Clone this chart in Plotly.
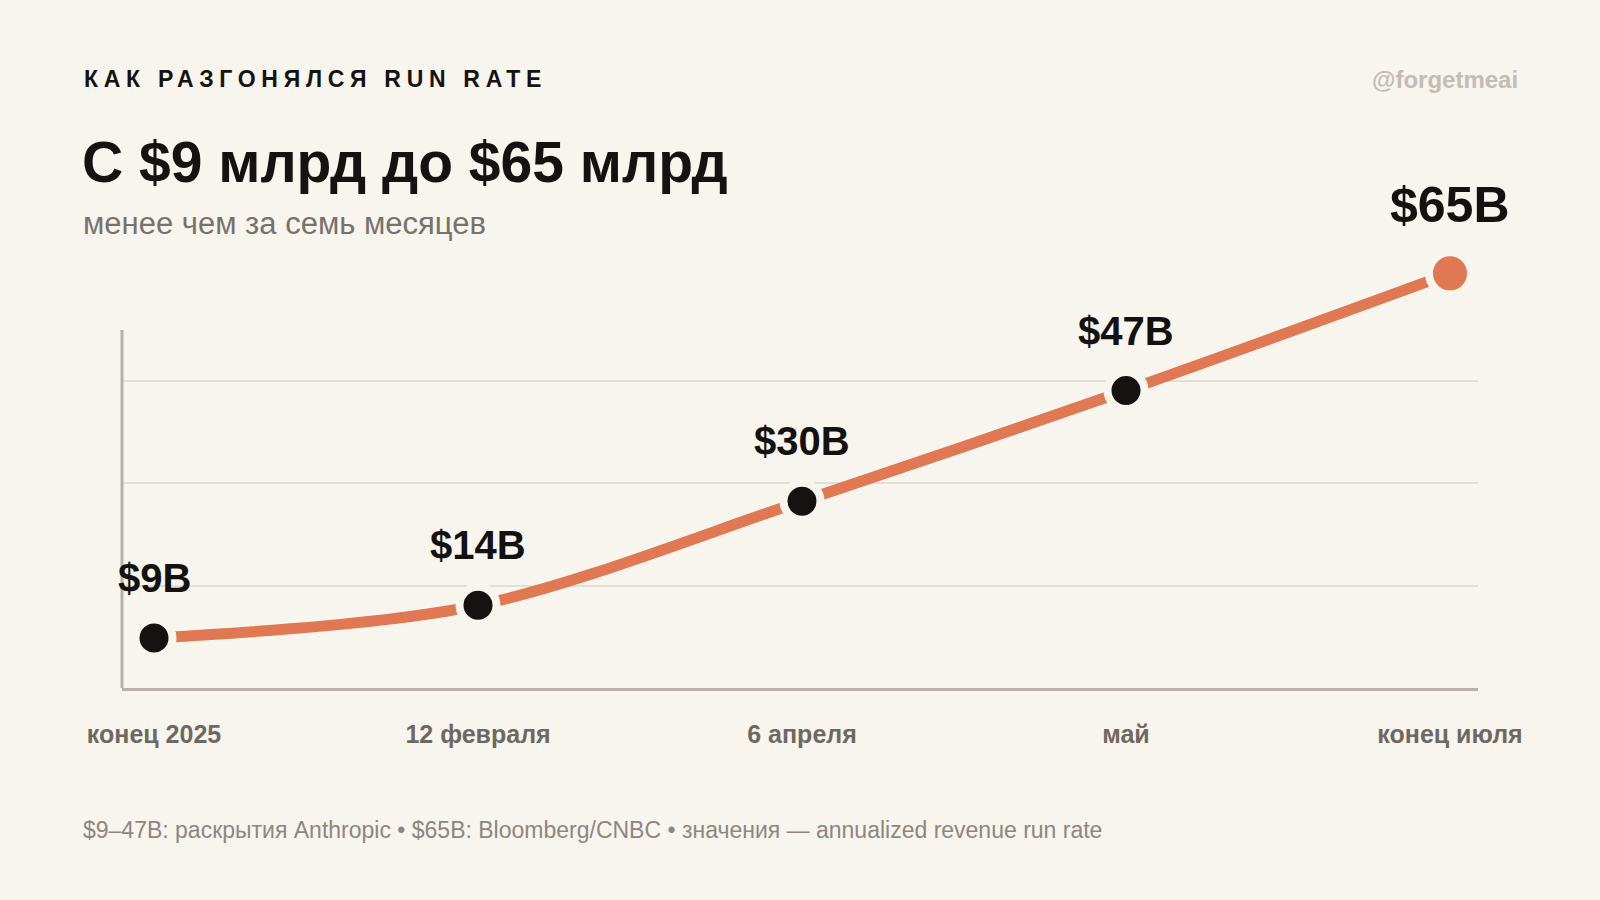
import plotly.graph_objects as go

# Данные: run rate Anthropic, млрд $
periods = ["конец 2025", "12 февраля", "6 апреля", "май", "конец июля"]
run_rate = [9, 14, 30, 47, 65]
value_labels = ["$9B", "$14B", "$30B", "$47B", "$65B"]

kicker = "КАК РАЗГОНЯЛСЯ RUN RATE"
title = "С $9 млрд до $65 млрд"
subtitle = "менее чем за семь месяцев"
handle = "@forgetmeai"
footnote = "$9–47B: раскрытия Anthropic • $65B: Bloomberg/CNBC • значения — annualized revenue run rate"

BG = "#F8F4EE"
ORANGE = "#E07853"
DARK = "#151311"
AXIS = "#B7B1AA"
FONT = "Liberation Sans, Arial, sans-serif"

W, H = 1600, 900
# область графика выше видимой оси Y, чтобы точка $65B не обрезалась
ML, MR, MT, MB = 122, 122, 240, 212
AXIS_TOP_PX = 330


# пиксели -> координаты paper (для текстов вне графика)
def px(x):
    return (x - ML) / (W - ML - MR)


def py(y):
    return (H - MB - y) / (H - MT - MB)


y_lo, axis_top = 1.3, 56.3
plot_h = H - MT - MB
y_hi = y_lo + (axis_top - y_lo) * plot_h / (H - MB - AXIS_TOP_PX)
grid_vals = [y_lo + (axis_top - y_lo) * k * 2 / 7 for k in (1, 2, 3)]

fig = go.Figure()

fig.add_trace(go.Scatter(
    x=periods, y=run_rate,
    mode="lines+markers",
    line=dict(color=ORANGE, width=11, shape="spline", smoothing=0.9),
    marker=dict(
        color=[DARK] * (len(run_rate) - 1) + [ORANGE],
        size=[37] * (len(run_rate) - 1) + [42],
        opacity=1,
        line=dict(color=BG, width=8),
    ),
    hoverinfo="skip",
    showlegend=False,
))

# подписи значений над точками
for i, (p, v, lab) in enumerate(zip(periods, run_rate, value_labels)):
    last = i == len(run_rate) - 1
    fig.add_annotation(
        x=p, y=v, text="<b>%s</b>" % lab, showarrow=False,
        yshift=68 if last else 60,
        font=dict(family=FONT, size=50 if last else 40, color="#141210"),
    )

# видимая ось Y короче области графика
fig.add_shape(
    type="line", xref="paper", yref="y", x0=0, x1=0, y0=y_lo, y1=axis_top,
    line=dict(color=AXIS, width=3), layer="above",
)

# заголовки
fig.add_annotation(
    x=px(82), y=py(79), xref="paper", yref="paper", xanchor="left", yanchor="middle",
    text='<span style="letter-spacing:5.7px"><b>%s</b></span>' % kicker, showarrow=False,
    font=dict(family=FONT, size=23, color="#151311"),
)
fig.add_annotation(
    x=px(1520), y=py(79), xref="paper", yref="paper", xanchor="right", yanchor="middle",
    text="<b>%s</b>" % handle, showarrow=False,
    font=dict(family=FONT, size=24, color="#C2BDB6"),
)
fig.add_annotation(
    x=px(80), y=py(162), xref="paper", yref="paper", xanchor="left", yanchor="middle",
    text="<b>%s</b>" % title, showarrow=False,
    font=dict(family=FONT, size=57, color="#151311"),
)
fig.add_annotation(
    x=px(81), y=py(223), xref="paper", yref="paper", xanchor="left", yanchor="middle",
    text=subtitle, showarrow=False,
    font=dict(family=FONT, size=31, color="#77726C"),
)
fig.add_annotation(
    x=px(81), y=py(830), xref="paper", yref="paper", xanchor="left", yanchor="middle",
    text=footnote, showarrow=False,
    font=dict(family=FONT, size=23, color="#8C8781"),
)

fig.update_xaxes(
    type="category",
    range=[-0.0988, 4.0864],
    showline=True, linecolor=AXIS, linewidth=3,
    showgrid=False, zeroline=False,
    ticks="", ticklabelstandoff=22,
    tickfont=dict(family=FONT, size=25, color="#6E6862"),
    tickprefix="<b>", ticksuffix="</b>",
)
fig.update_yaxes(
    range=[y_lo, y_hi],
    showline=False,
    showgrid=True, gridcolor="#E3DED6", gridwidth=1.5,
    zeroline=False,
    tickvals=grid_vals,
    showticklabels=False, ticks="",
)

fig.update_layout(
    width=W, height=H,
    margin=dict(l=ML, r=MR, t=MT, b=MB),
    paper_bgcolor=BG, plot_bgcolor=BG,
    font=dict(family=FONT),
)

fig.write_html(
    "out.html",
    config={"displayModeBar": False},
    post_script="document.body.style.margin='0';",
)
